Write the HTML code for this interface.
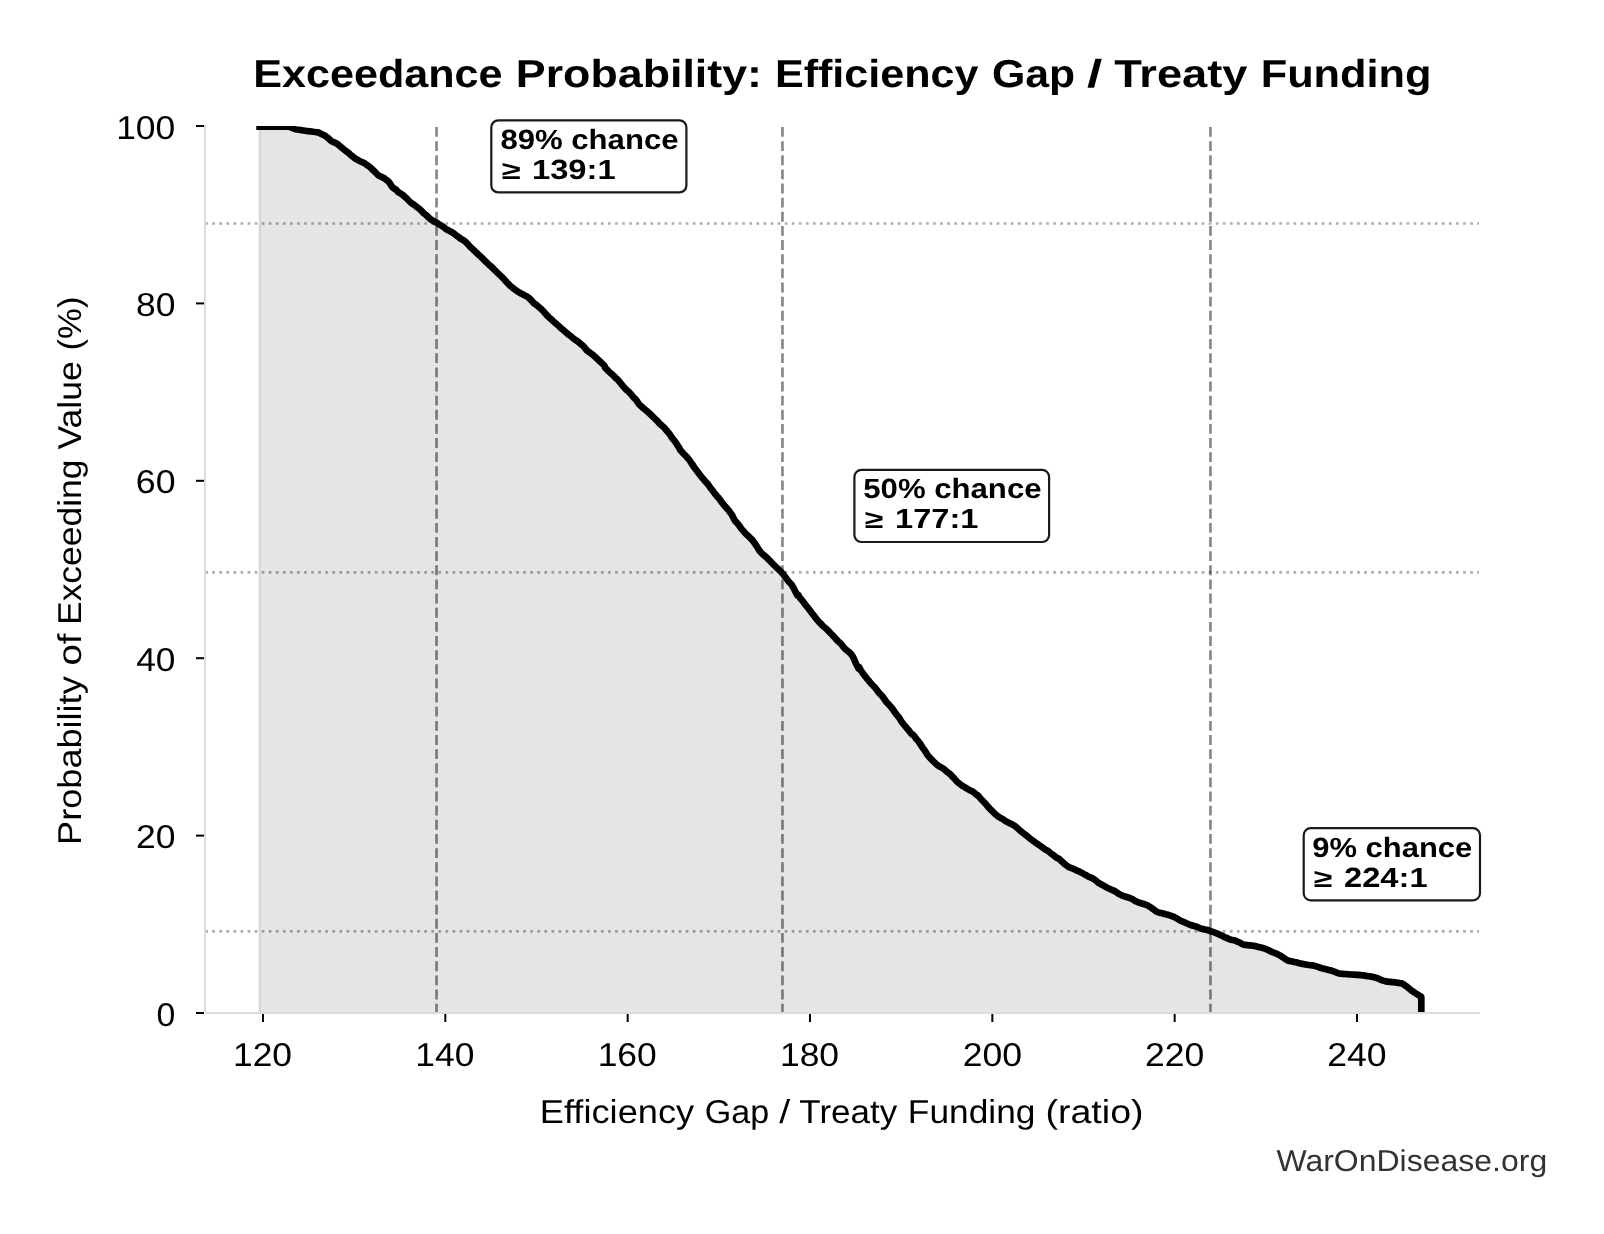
<!DOCTYPE html>
<html><head><meta charset="utf-8"><style>
html,body{margin:0;padding:0;background:#fff;overflow:hidden;}
svg{display:block;will-change:transform;}
text{font-family:"Liberation Sans", sans-serif;text-rendering:geometricPrecision;}
</style></head><body>
<svg width="1604" height="1234" viewBox="0 0 1604 1234">
<rect x="0" y="0" width="1604" height="1234" fill="#fff"/>
<defs><clipPath id="ax"><rect x="205" y="126" width="1274" height="887"/></clipPath></defs>
<g clip-path="url(#ax)">
<polygon points="259.6,126.6 288.9,126.6 295.4,129.2 301.9,130.2 308.3,131.2 310,131.3 311.6,131.5 313.2,131.8 314.9,132 316.5,132.2 318.1,132.4 319.7,133.1 321.3,133.9 323,134.7 324.6,135.5 326.2,136.6 327.8,137.8 329.4,139.3 331.1,140.9 332.7,141.7 334.3,142.4 335.9,143.1 337.6,144.1 339.2,145.5 340.8,146.9 342.4,148.2 344,149.6 345.7,150.8 347.3,152 348.9,153.2 350.5,154.8 352.1,156 353.8,157.3 355.4,158.6 357,159.5 358.6,160.4 360.2,161.2 361.9,162 363.5,162.8 365.1,163.6 366.7,164.8 368.3,165.9 370,167.1 371.6,168.7 373.2,170.2 374.8,171.7 376.5,173.5 378.1,175.1 379.7,176 381.3,176.8 382.9,177.6 384.6,178.3 385,178.9 386.6,180.1 388.2,181.2 389.9,183.3 391.5,186 393.1,187.9 394.7,188.9 396.3,189.9 398,192 399.6,192.9 401.2,193.8 402.8,195 404.4,196.5 406.1,197.9 407.7,199.5 409.3,201.1 410.9,202.6 412.6,203.9 414.2,204.9 415.8,206.1 417.4,207.4 419,208.6 420.7,210.1 422.3,211.7 423.9,213.4 425.5,214.6 427.1,216 428.8,217.6 430.4,219.2 432,220.2 433.6,221.2 435.2,222 436.9,222.9 438.5,223.9 440.1,224.8 441.7,225.8 443.3,226.9 445,228.3 446.6,229.4 448.2,230.3 449.8,231.1 451.5,232 453.1,232.9 454.7,234.2 456.3,235.4 457.9,236.6 459.6,237.6 460,238.4 461.6,239.3 463.2,240.1 464.9,241.2 466.5,242.8 468.1,244.5 469.7,246.2 471.3,247.9 473,249.3 474.6,250.9 476.2,252.5 477.8,254 479.4,255.4 481.1,257 482.7,258.5 484.3,260.2 485.9,261.8 487.6,263.4 489.2,264.9 490.8,266.3 492.4,267.8 494,269.3 495.7,271 497.3,272.6 498.9,274.1 500.5,275.6 502.1,277.1 503.8,278.8 505.4,280.7 507,282.5 508.6,284.1 510.2,285.8 511.9,287.1 513.5,288.5 515.1,289.7 516.7,290.8 518.3,291.9 520,292.9 521.6,293.8 523.2,294.6 524.8,295.4 526.5,296.2 528.1,297.4 529.7,298.7 531.3,300.3 532.9,302.1 534.6,303.9 535,303.8 536.6,305.1 538.2,306.5 539.9,307.9 541.5,309.3 543.1,311 544.7,312.8 546.3,314.6 548,316.4 549.6,317.9 551.2,319.3 552.8,320.8 554.4,322.2 556.1,323.6 557.7,325.1 559.3,326.5 560.9,327.9 562.6,329.4 564.2,330.8 565.8,332.2 567.4,333.6 569,334.9 570.7,336.2 572.3,337.5 573.9,338.8 575.5,340 577.1,341.1 578.8,342.3 580.4,343.7 582,345 583.6,346.3 585.2,348.3 586.9,350.5 588.5,351.7 590.1,352.8 591.7,354 593.3,355.2 595,356.7 596.6,358.2 598.2,359.8 599.8,361.3 601.5,362.9 603.1,364.4 604.7,366 605,367.6 606.6,369.2 608.2,370.8 609.9,372.5 611.5,373.8 613.1,375.2 614.7,376.9 616.3,378.6 618,380.1 619.6,381.8 621.2,383.9 622.8,385.8 624.4,387.7 626.1,389.6 627.7,390.9 629.3,392.3 630.9,394.2 632.6,396.2 634.2,398.1 635.8,399.5 637.4,401.7 639,404.2 640.7,405.7 642.3,407.2 643.9,408.7 645.5,409.9 647.1,411.3 648.8,412.8 650.4,414.3 652,415.8 653.6,417.4 655.2,418.9 656.9,420.4 658.5,422.4 660.1,424.1 661.7,425.4 663.3,426.8 665,428.6 666.6,430.5 668.2,432.4 669.8,434.3 671.5,437 673.1,439.3 674.7,441 676.3,443.4 677.9,445.9 679.6,448.4 680,449.7 681.6,451.5 683.2,453.3 684.9,455 686.5,456.6 688.1,458.5 689.7,460.5 691.3,463 693,465.5 694.6,467.9 696.2,469.9 697.8,472 699.4,474.2 701.1,476.4 702.7,478.3 704.3,480.2 705.9,482.1 707.6,483.8 709.2,486 710.8,488.4 712.4,490.2 714,492.5 715.7,494.6 717.3,496.5 718.9,498.3 720.5,500.5 722.1,502.7 723.8,504.8 725.4,506.7 727,508.6 728.6,510.3 730.2,512.5 731.9,514.7 733.5,517.9 735,520.8 736.6,522.4 738.2,524.3 739.9,526.6 741.5,528.9 743.1,530.7 744.7,532.5 746.3,534.2 748,535.7 749.6,537.3 751.2,538.9 752.8,540.6 754.4,542.9 756.1,545.3 757.7,547.8 759.3,550.4 760.9,552.4 762.6,554.1 764.2,555.4 765.8,556.8 767.4,558.3 769,559.9 770.7,561.6 772.3,563.3 773.9,564.9 775.5,566.5 777.1,568.1 778.8,569.6 780.4,571.2 782,572.8 783.6,574.7 785.2,576.9 786.9,579.2 788.5,581.4 790.1,583 791.7,584.7 793.3,587.5 794.6,590.1 797.4,595.4 798.4,595 800,598 801.7,599.9 803.3,601.8 804.9,604.1 806.5,606.1 808.2,608.1 809.8,610.3 811.4,612.5 813,614.5 814.6,616.4 816.3,618.7 817.9,620.8 819.5,622.5 821.1,624 822.7,625.8 824.4,627.2 826,628.5 827.6,630.1 829.2,631.8 830.8,633.5 832.5,635.2 834.1,636.9 835.7,638.7 837.3,640.5 838.9,642 840.6,643.4 842.2,645.3 843.8,647.5 845.4,649.1 847.1,650.5 848.7,651.8 850.3,653.2 851.9,655.1 853.5,657.8 855.8,663.2 858.5,668.5 859.1,667.1 860.7,670.1 862.3,672.5 863.9,674.7 865.6,676.8 867.2,678.9 868.8,680.7 870.4,682.8 872,684.5 873.7,686.2 875.3,687.9 876.9,690 878.5,692.2 880.1,694 881.8,695.7 883.4,697.7 885,700 886.6,702.2 888.2,703.9 889.9,705.7 891.5,707.7 893.1,709.7 894.7,712.1 896.4,714.4 898,716.2 899.6,718.3 901.2,721.1 902.8,723.4 904.5,725.4 906.1,727.2 907.7,729.3 908.2,729.6 909.9,731.9 911.5,733.8 913.1,734.8 914.7,736.7 916.3,739 918,740.8 919.6,742.9 921.2,745.4 922.8,747.9 924.4,750 926.1,752.6 927.7,755.3 929.3,757.1 930.9,758.8 932.6,760.6 934.2,762.1 935.8,763.6 937.4,765.1 939,766.2 940.7,767 942.3,768 943.9,769.1 945.5,770.5 947.1,771.8 948.8,773.1 950.4,774.4 952,776.1 953.6,777.8 955.2,779.6 956.9,781.5 958.5,782.8 960.1,784.1 961.7,785.3 963.3,786.3 965,787.3 966.6,788.4 968.2,789.3 969.8,790.2 971.5,791 973.1,791.8 974.7,793 976.3,794.6 976.9,794.7 978.6,796.3 980.2,798.1 981.8,799.9 983.4,801.5 985,803.1 986.7,805.1 988.3,807.1 989.9,808.8 991.5,810.4 993.2,812 994.8,813.7 996.4,815.1 998,816.3 999.6,817.4 1001.3,818.3 1002.9,819.2 1004.5,820.3 1006.1,821.3 1007.7,822.2 1009.4,823.1 1011,823.8 1012.6,824.7 1014.2,825.6 1015.8,826.7 1017.5,828.1 1019.1,829.6 1020.7,831.1 1022.3,832.4 1023.9,833.6 1025.6,834.9 1027.2,836.2 1028.8,837.5 1030.4,838.8 1032.1,840.1 1033.7,841.2 1035.3,842.4 1036.9,843.5 1038.5,844.7 1040.2,845.8 1041.8,846.9 1043.4,848.1 1045,849.3 1046.6,850.2 1048.3,851.2 1049.9,852.5 1050,852.6 1051.6,853.8 1053.2,855 1054.9,856.2 1056.5,857.7 1058.1,858.4 1059.7,859.4 1061.3,861 1063,862.5 1064.6,864 1066.2,865.2 1067.8,866.3 1069.4,867.3 1071.1,868 1072.7,868.4 1074.3,869.3 1075.9,870.1 1077.6,870.8 1079.2,871.4 1080.8,872.3 1082.4,873.2 1084,874.1 1085.7,875 1087.3,875.9 1088.9,876.8 1090.5,877.4 1092.1,878.1 1093.8,879.1 1095.4,880.2 1097,881.6 1098.6,882.8 1100.2,883.8 1101.9,884.7 1103.5,885.6 1105.1,886.5 1106.7,887.4 1108.3,888.3 1110,889 1111.6,889.8 1113.2,890.4 1114.8,891.1 1116.5,892.2 1118.1,893.3 1119.7,894.3 1121.3,895.2 1122.9,895.8 1124.6,896.4 1125,896.5 1126.6,897 1128.2,897.5 1129.9,898 1131.5,898.8 1133.1,899.6 1134.7,900.6 1136.3,901.5 1138,902.2 1139.6,902.7 1141.2,903.2 1142.8,903.7 1144.4,904.2 1146.1,904.8 1147.7,905.6 1149.3,906.4 1150.9,907.5 1152.6,908.7 1154.2,909.8 1155.8,911.1 1157.4,912 1159,912.6 1160.7,913 1162.3,913.3 1163.9,913.7 1165.5,914.2 1167.1,914.6 1168.8,915 1170.4,915.6 1172,916.2 1173.6,916.8 1175.2,917.6 1176.9,918.4 1178.5,919.5 1180.1,920.6 1181.7,921.2 1183.3,921.8 1185,922.5 1186.6,923.3 1188.2,924 1189.8,924.7 1191.5,925.3 1193.1,925.8 1194.7,926.1 1196.3,926.6 1197.9,927.3 1199.6,928 1200,928.4 1201.6,928.7 1203.2,929.1 1204.9,929.5 1206.5,929.8 1208.1,930.3 1209.7,930.8 1211.3,931.4 1213,931.9 1214.6,932.5 1216.2,933.2 1217.8,933.8 1219.4,934.6 1221.1,935.3 1222.7,936.1 1224.3,936.9 1225.9,937.7 1227.6,938.4 1229.2,939.1 1230.8,939.7 1232.4,940 1234,940.3 1235.7,940.8 1237.3,941.6 1238.9,942.3 1240.5,943.1 1242.1,943.9 1243.8,944.7 1245.4,944.9 1247,945.1 1248.6,945.3 1250.2,945.4 1251.9,945.6 1253.5,945.8 1255.1,946.1 1256.7,946.5 1258.3,946.9 1260,947.3 1261.6,947.7 1263.2,948.1 1264.8,948.7 1266.5,949.3 1268.1,950 1269.7,950.9 1271.3,951.6 1272.9,952.3 1274.6,952.9 1275,953.1 1276.6,953.8 1278.2,954.6 1279.9,955.4 1281.5,956.4 1283.1,957.5 1284.7,958.6 1286.3,959.6 1288,960.6 1289.6,960.9 1291.2,961.3 1292.8,961.6 1294.4,962 1296.1,962.3 1297.7,962.8 1299.3,963.2 1300.9,963.6 1302.6,963.9 1304.2,964.2 1305.8,964.5 1307.4,964.8 1309,965 1310.7,965.2 1312.3,965.4 1313.9,965.6 1315.5,966.1 1317.1,966.6 1318.8,967.2 1320.4,967.8 1322,968.3 1323.6,968.7 1325.2,969.1 1326.9,969.5 1328.5,970 1330.1,970.3 1331.7,970.8 1333.3,971.3 1335,971.9 1336.6,972.6 1338.2,973.2 1339.8,973.6 1341.5,973.8 1343.1,973.9 1344.7,974 1346.3,974.1 1347.9,974.3 1349.6,974.5 1350,974.4 1351.6,974.5 1353.2,974.6 1354.9,974.7 1356.5,974.8 1358.1,974.9 1359.7,975.1 1361.3,975.2 1363,975.4 1364.6,975.6 1366.2,975.9 1367.8,976.1 1369.4,976.3 1371.1,976.6 1372.7,976.9 1374.3,977.3 1375.9,977.7 1377.6,978.2 1379.2,979 1380.8,979.8 1382.4,980.4 1384,980.9 1385.7,981.4 1387.3,981.6 1388.9,981.8 1390.5,981.9 1392.1,982.1 1393.8,982.2 1395.4,982.4 1397,982.7 1398.6,982.9 1400.2,983.2 1401.9,983.4 1403.5,984.3 1405.1,985.4 1406.7,986.5 1408.3,987.9 1410,989.3 1411.6,990.6 1413.2,991.6 1414.8,992.7 1421.3,996.9 1421.3,1016 1421.3,1013 259.6,1013" fill="#000" fill-opacity="0.1"/>
<line x1="259.6" y1="126" x2="259.6" y2="1013" stroke="#000" stroke-opacity="0.1" stroke-width="2.4"/>
<g stroke="#000" stroke-opacity="0.33" stroke-width="2.667" stroke-dasharray="2.667 4.4">
<line x1="205.2" y1="223.5" x2="1479" y2="223.5"/>
<line x1="205.2" y1="572.4" x2="1479" y2="572.4"/>
<line x1="205.2" y1="931.4" x2="1479" y2="931.4"/>
</g>
<g stroke="#000" stroke-opacity="0.47" stroke-width="2.667" stroke-dasharray="9.87 4.27">
<line x1="436.55" y1="127" x2="436.55" y2="1013.2"/>
<line x1="782.45" y1="127" x2="782.45" y2="1013.2"/>
<line x1="1210.45" y1="127" x2="1210.45" y2="1013.2"/>
</g>
<polyline points="259.6,126.6 288.9,126.6 295.4,129.2 301.9,130.2 308.3,131.2 310,131.3 311.6,131.5 313.2,131.8 314.9,132 316.5,132.2 318.1,132.4 319.7,133.1 321.3,133.9 323,134.7 324.6,135.5 326.2,136.6 327.8,137.8 329.4,139.3 331.1,140.9 332.7,141.7 334.3,142.4 335.9,143.1 337.6,144.1 339.2,145.5 340.8,146.9 342.4,148.2 344,149.6 345.7,150.8 347.3,152 348.9,153.2 350.5,154.8 352.1,156 353.8,157.3 355.4,158.6 357,159.5 358.6,160.4 360.2,161.2 361.9,162 363.5,162.8 365.1,163.6 366.7,164.8 368.3,165.9 370,167.1 371.6,168.7 373.2,170.2 374.8,171.7 376.5,173.5 378.1,175.1 379.7,176 381.3,176.8 382.9,177.6 384.6,178.3 385,178.9 386.6,180.1 388.2,181.2 389.9,183.3 391.5,186 393.1,187.9 394.7,188.9 396.3,189.9 398,192 399.6,192.9 401.2,193.8 402.8,195 404.4,196.5 406.1,197.9 407.7,199.5 409.3,201.1 410.9,202.6 412.6,203.9 414.2,204.9 415.8,206.1 417.4,207.4 419,208.6 420.7,210.1 422.3,211.7 423.9,213.4 425.5,214.6 427.1,216 428.8,217.6 430.4,219.2 432,220.2 433.6,221.2 435.2,222 436.9,222.9 438.5,223.9 440.1,224.8 441.7,225.8 443.3,226.9 445,228.3 446.6,229.4 448.2,230.3 449.8,231.1 451.5,232 453.1,232.9 454.7,234.2 456.3,235.4 457.9,236.6 459.6,237.6 460,238.4 461.6,239.3 463.2,240.1 464.9,241.2 466.5,242.8 468.1,244.5 469.7,246.2 471.3,247.9 473,249.3 474.6,250.9 476.2,252.5 477.8,254 479.4,255.4 481.1,257 482.7,258.5 484.3,260.2 485.9,261.8 487.6,263.4 489.2,264.9 490.8,266.3 492.4,267.8 494,269.3 495.7,271 497.3,272.6 498.9,274.1 500.5,275.6 502.1,277.1 503.8,278.8 505.4,280.7 507,282.5 508.6,284.1 510.2,285.8 511.9,287.1 513.5,288.5 515.1,289.7 516.7,290.8 518.3,291.9 520,292.9 521.6,293.8 523.2,294.6 524.8,295.4 526.5,296.2 528.1,297.4 529.7,298.7 531.3,300.3 532.9,302.1 534.6,303.9 535,303.8 536.6,305.1 538.2,306.5 539.9,307.9 541.5,309.3 543.1,311 544.7,312.8 546.3,314.6 548,316.4 549.6,317.9 551.2,319.3 552.8,320.8 554.4,322.2 556.1,323.6 557.7,325.1 559.3,326.5 560.9,327.9 562.6,329.4 564.2,330.8 565.8,332.2 567.4,333.6 569,334.9 570.7,336.2 572.3,337.5 573.9,338.8 575.5,340 577.1,341.1 578.8,342.3 580.4,343.7 582,345 583.6,346.3 585.2,348.3 586.9,350.5 588.5,351.7 590.1,352.8 591.7,354 593.3,355.2 595,356.7 596.6,358.2 598.2,359.8 599.8,361.3 601.5,362.9 603.1,364.4 604.7,366 605,367.6 606.6,369.2 608.2,370.8 609.9,372.5 611.5,373.8 613.1,375.2 614.7,376.9 616.3,378.6 618,380.1 619.6,381.8 621.2,383.9 622.8,385.8 624.4,387.7 626.1,389.6 627.7,390.9 629.3,392.3 630.9,394.2 632.6,396.2 634.2,398.1 635.8,399.5 637.4,401.7 639,404.2 640.7,405.7 642.3,407.2 643.9,408.7 645.5,409.9 647.1,411.3 648.8,412.8 650.4,414.3 652,415.8 653.6,417.4 655.2,418.9 656.9,420.4 658.5,422.4 660.1,424.1 661.7,425.4 663.3,426.8 665,428.6 666.6,430.5 668.2,432.4 669.8,434.3 671.5,437 673.1,439.3 674.7,441 676.3,443.4 677.9,445.9 679.6,448.4 680,449.7 681.6,451.5 683.2,453.3 684.9,455 686.5,456.6 688.1,458.5 689.7,460.5 691.3,463 693,465.5 694.6,467.9 696.2,469.9 697.8,472 699.4,474.2 701.1,476.4 702.7,478.3 704.3,480.2 705.9,482.1 707.6,483.8 709.2,486 710.8,488.4 712.4,490.2 714,492.5 715.7,494.6 717.3,496.5 718.9,498.3 720.5,500.5 722.1,502.7 723.8,504.8 725.4,506.7 727,508.6 728.6,510.3 730.2,512.5 731.9,514.7 733.5,517.9 735,520.8 736.6,522.4 738.2,524.3 739.9,526.6 741.5,528.9 743.1,530.7 744.7,532.5 746.3,534.2 748,535.7 749.6,537.3 751.2,538.9 752.8,540.6 754.4,542.9 756.1,545.3 757.7,547.8 759.3,550.4 760.9,552.4 762.6,554.1 764.2,555.4 765.8,556.8 767.4,558.3 769,559.9 770.7,561.6 772.3,563.3 773.9,564.9 775.5,566.5 777.1,568.1 778.8,569.6 780.4,571.2 782,572.8 783.6,574.7 785.2,576.9 786.9,579.2 788.5,581.4 790.1,583 791.7,584.7 793.3,587.5 794.6,590.1 797.4,595.4 798.4,595 800,598 801.7,599.9 803.3,601.8 804.9,604.1 806.5,606.1 808.2,608.1 809.8,610.3 811.4,612.5 813,614.5 814.6,616.4 816.3,618.7 817.9,620.8 819.5,622.5 821.1,624 822.7,625.8 824.4,627.2 826,628.5 827.6,630.1 829.2,631.8 830.8,633.5 832.5,635.2 834.1,636.9 835.7,638.7 837.3,640.5 838.9,642 840.6,643.4 842.2,645.3 843.8,647.5 845.4,649.1 847.1,650.5 848.7,651.8 850.3,653.2 851.9,655.1 853.5,657.8 855.8,663.2 858.5,668.5 859.1,667.1 860.7,670.1 862.3,672.5 863.9,674.7 865.6,676.8 867.2,678.9 868.8,680.7 870.4,682.8 872,684.5 873.7,686.2 875.3,687.9 876.9,690 878.5,692.2 880.1,694 881.8,695.7 883.4,697.7 885,700 886.6,702.2 888.2,703.9 889.9,705.7 891.5,707.7 893.1,709.7 894.7,712.1 896.4,714.4 898,716.2 899.6,718.3 901.2,721.1 902.8,723.4 904.5,725.4 906.1,727.2 907.7,729.3 908.2,729.6 909.9,731.9 911.5,733.8 913.1,734.8 914.7,736.7 916.3,739 918,740.8 919.6,742.9 921.2,745.4 922.8,747.9 924.4,750 926.1,752.6 927.7,755.3 929.3,757.1 930.9,758.8 932.6,760.6 934.2,762.1 935.8,763.6 937.4,765.1 939,766.2 940.7,767 942.3,768 943.9,769.1 945.5,770.5 947.1,771.8 948.8,773.1 950.4,774.4 952,776.1 953.6,777.8 955.2,779.6 956.9,781.5 958.5,782.8 960.1,784.1 961.7,785.3 963.3,786.3 965,787.3 966.6,788.4 968.2,789.3 969.8,790.2 971.5,791 973.1,791.8 974.7,793 976.3,794.6 976.9,794.7 978.6,796.3 980.2,798.1 981.8,799.9 983.4,801.5 985,803.1 986.7,805.1 988.3,807.1 989.9,808.8 991.5,810.4 993.2,812 994.8,813.7 996.4,815.1 998,816.3 999.6,817.4 1001.3,818.3 1002.9,819.2 1004.5,820.3 1006.1,821.3 1007.7,822.2 1009.4,823.1 1011,823.8 1012.6,824.7 1014.2,825.6 1015.8,826.7 1017.5,828.1 1019.1,829.6 1020.7,831.1 1022.3,832.4 1023.9,833.6 1025.6,834.9 1027.2,836.2 1028.8,837.5 1030.4,838.8 1032.1,840.1 1033.7,841.2 1035.3,842.4 1036.9,843.5 1038.5,844.7 1040.2,845.8 1041.8,846.9 1043.4,848.1 1045,849.3 1046.6,850.2 1048.3,851.2 1049.9,852.5 1050,852.6 1051.6,853.8 1053.2,855 1054.9,856.2 1056.5,857.7 1058.1,858.4 1059.7,859.4 1061.3,861 1063,862.5 1064.6,864 1066.2,865.2 1067.8,866.3 1069.4,867.3 1071.1,868 1072.7,868.4 1074.3,869.3 1075.9,870.1 1077.6,870.8 1079.2,871.4 1080.8,872.3 1082.4,873.2 1084,874.1 1085.7,875 1087.3,875.9 1088.9,876.8 1090.5,877.4 1092.1,878.1 1093.8,879.1 1095.4,880.2 1097,881.6 1098.6,882.8 1100.2,883.8 1101.9,884.7 1103.5,885.6 1105.1,886.5 1106.7,887.4 1108.3,888.3 1110,889 1111.6,889.8 1113.2,890.4 1114.8,891.1 1116.5,892.2 1118.1,893.3 1119.7,894.3 1121.3,895.2 1122.9,895.8 1124.6,896.4 1125,896.5 1126.6,897 1128.2,897.5 1129.9,898 1131.5,898.8 1133.1,899.6 1134.7,900.6 1136.3,901.5 1138,902.2 1139.6,902.7 1141.2,903.2 1142.8,903.7 1144.4,904.2 1146.1,904.8 1147.7,905.6 1149.3,906.4 1150.9,907.5 1152.6,908.7 1154.2,909.8 1155.8,911.1 1157.4,912 1159,912.6 1160.7,913 1162.3,913.3 1163.9,913.7 1165.5,914.2 1167.1,914.6 1168.8,915 1170.4,915.6 1172,916.2 1173.6,916.8 1175.2,917.6 1176.9,918.4 1178.5,919.5 1180.1,920.6 1181.7,921.2 1183.3,921.8 1185,922.5 1186.6,923.3 1188.2,924 1189.8,924.7 1191.5,925.3 1193.1,925.8 1194.7,926.1 1196.3,926.6 1197.9,927.3 1199.6,928 1200,928.4 1201.6,928.7 1203.2,929.1 1204.9,929.5 1206.5,929.8 1208.1,930.3 1209.7,930.8 1211.3,931.4 1213,931.9 1214.6,932.5 1216.2,933.2 1217.8,933.8 1219.4,934.6 1221.1,935.3 1222.7,936.1 1224.3,936.9 1225.9,937.7 1227.6,938.4 1229.2,939.1 1230.8,939.7 1232.4,940 1234,940.3 1235.7,940.8 1237.3,941.6 1238.9,942.3 1240.5,943.1 1242.1,943.9 1243.8,944.7 1245.4,944.9 1247,945.1 1248.6,945.3 1250.2,945.4 1251.9,945.6 1253.5,945.8 1255.1,946.1 1256.7,946.5 1258.3,946.9 1260,947.3 1261.6,947.7 1263.2,948.1 1264.8,948.7 1266.5,949.3 1268.1,950 1269.7,950.9 1271.3,951.6 1272.9,952.3 1274.6,952.9 1275,953.1 1276.6,953.8 1278.2,954.6 1279.9,955.4 1281.5,956.4 1283.1,957.5 1284.7,958.6 1286.3,959.6 1288,960.6 1289.6,960.9 1291.2,961.3 1292.8,961.6 1294.4,962 1296.1,962.3 1297.7,962.8 1299.3,963.2 1300.9,963.6 1302.6,963.9 1304.2,964.2 1305.8,964.5 1307.4,964.8 1309,965 1310.7,965.2 1312.3,965.4 1313.9,965.6 1315.5,966.1 1317.1,966.6 1318.8,967.2 1320.4,967.8 1322,968.3 1323.6,968.7 1325.2,969.1 1326.9,969.5 1328.5,970 1330.1,970.3 1331.7,970.8 1333.3,971.3 1335,971.9 1336.6,972.6 1338.2,973.2 1339.8,973.6 1341.5,973.8 1343.1,973.9 1344.7,974 1346.3,974.1 1347.9,974.3 1349.6,974.5 1350,974.4 1351.6,974.5 1353.2,974.6 1354.9,974.7 1356.5,974.8 1358.1,974.9 1359.7,975.1 1361.3,975.2 1363,975.4 1364.6,975.6 1366.2,975.9 1367.8,976.1 1369.4,976.3 1371.1,976.6 1372.7,976.9 1374.3,977.3 1375.9,977.7 1377.6,978.2 1379.2,979 1380.8,979.8 1382.4,980.4 1384,980.9 1385.7,981.4 1387.3,981.6 1388.9,981.8 1390.5,981.9 1392.1,982.1 1393.8,982.2 1395.4,982.4 1397,982.7 1398.6,982.9 1400.2,983.2 1401.9,983.4 1403.5,984.3 1405.1,985.4 1406.7,986.5 1408.3,987.9 1410,989.3 1411.6,990.6 1413.2,991.6 1414.8,992.7 1421.3,996.9 1421.3,1016" fill="none" stroke="#000" stroke-width="6.67" stroke-linejoin="round" stroke-linecap="square"/>
</g>
<g stroke="#dddddd" stroke-width="2">
<line x1="205" y1="125" x2="205" y2="1012"/>
<line x1="205" y1="1013" x2="1480" y2="1013"/>
</g>
<g stroke="#000" stroke-width="2">
<line x1="196" y1="126" x2="204" y2="126"/>
<line x1="196" y1="303.4" x2="204" y2="303.4"/>
<line x1="196" y1="480.8" x2="204" y2="480.8"/>
<line x1="196" y1="658.2" x2="204" y2="658.2"/>
<line x1="196" y1="835.6" x2="204" y2="835.6"/>
<line x1="196" y1="1013" x2="204" y2="1013"/>
<line x1="263" y1="1014" x2="263" y2="1022"/>
<line x1="445.33" y1="1014" x2="445.33" y2="1022"/>
<line x1="627.67" y1="1014" x2="627.67" y2="1022"/>
<line x1="810" y1="1014" x2="810" y2="1022"/>
<line x1="992.33" y1="1014" x2="992.33" y2="1022"/>
<line x1="1174.67" y1="1014" x2="1174.67" y2="1022"/>
<line x1="1357" y1="1014" x2="1357" y2="1022"/>
</g>
<g fill="#fff" stroke="#1a1a1a" stroke-width="2.2">
<rect x="491.3" y="120.3" width="195.1" height="72.1" rx="7"/>
<rect x="854.4" y="469.9" width="194.7" height="72.1" rx="7"/>
<rect x="1303.7" y="828.2" width="176.3" height="72.1" rx="7"/>
</g>
<text x="1276.45" y="1170.85" font-size="30.1" fill="#333" textLength="270.74" lengthAdjust="spacingAndGlyphs">WarOnDisease.org</text>
<text x="500.45" y="148.6" font-size="27.8" font-weight="bold" textLength="178.08" lengthAdjust="spacingAndGlyphs">89% chance</text>
<text transform="translate(501.64,178.9) scale(1,0.915)" x="0" y="0" font-size="27.8" font-weight="bold" textLength="18.89" lengthAdjust="spacingAndGlyphs">≥</text>
<text x="531.93" y="178.9" font-size="27.8" font-weight="bold" textLength="83.76" lengthAdjust="spacingAndGlyphs">139:1</text>
<text x="863.25" y="497.5" font-size="27.8" font-weight="bold" textLength="178.27" lengthAdjust="spacingAndGlyphs">50% chance</text>
<text transform="translate(864.76,527.8) scale(1,0.915)" x="0" y="0" font-size="27.8" font-weight="bold" textLength="18.56" lengthAdjust="spacingAndGlyphs">≥</text>
<text x="895.14" y="527.8" font-size="27.8" font-weight="bold" textLength="83.35" lengthAdjust="spacingAndGlyphs">177:1</text>
<text x="1312.28" y="856.6" font-size="27.8" font-weight="bold" textLength="159.93" lengthAdjust="spacingAndGlyphs">9% chance</text>
<text transform="translate(1313.76,886.9) scale(1,0.915)" x="0" y="0" font-size="27.8" font-weight="bold" textLength="18.56" lengthAdjust="spacingAndGlyphs">≥</text>
<text x="1344.02" y="886.9" font-size="27.8" font-weight="bold" textLength="83.56" lengthAdjust="spacingAndGlyphs">224:1</text>
<text x="253.2" y="87" font-size="38.95" font-weight="bold" textLength="249.37" lengthAdjust="spacingAndGlyphs">Exceedance</text>
<text x="515.89" y="87" font-size="38.95" font-weight="bold" textLength="246.06" lengthAdjust="spacingAndGlyphs">Probability:</text>
<text x="774.9" y="87" font-size="38.95" font-weight="bold" textLength="203.67" lengthAdjust="spacingAndGlyphs">Efficiency</text>
<text x="991.92" y="87" font-size="38.95" font-weight="bold" textLength="83.27" lengthAdjust="spacingAndGlyphs">Gap</text>
<text x="1087" y="87" font-size="38.95" font-weight="bold" textLength="15.32" lengthAdjust="spacingAndGlyphs">/</text>
<text x="1114.18" y="87" font-size="38.95" font-weight="bold" textLength="133.34" lengthAdjust="spacingAndGlyphs">Treaty</text>
<text x="1260.68" y="87" font-size="38.95" font-weight="bold" textLength="170.9" lengthAdjust="spacingAndGlyphs">Funding</text>
<text x="539.81" y="1122.8" font-size="33" textLength="154.36" lengthAdjust="spacingAndGlyphs">Efficiency</text>
<text x="704.87" y="1122.8" font-size="33" textLength="64.41" lengthAdjust="spacingAndGlyphs">Gap</text>
<text x="779.38" y="1122.8" font-size="33" textLength="10.93" lengthAdjust="spacingAndGlyphs">/</text>
<text x="799.32" y="1122.8" font-size="33" textLength="97.87" lengthAdjust="spacingAndGlyphs">Treaty</text>
<text x="907.89" y="1122.8" font-size="33" textLength="127.51" lengthAdjust="spacingAndGlyphs">Funding</text>
<text x="1045.45" y="1122.8" font-size="33" textLength="98.11" lengthAdjust="spacingAndGlyphs">(ratio)</text>
<text transform="translate(80.95,841.8) rotate(-90)" x="-3.08" y="0" font-size="33" textLength="168.56" lengthAdjust="spacingAndGlyphs">Probability</text>
<text transform="translate(80.95,663.9) rotate(-90)" x="-1.63" y="0" font-size="33" textLength="31.98" lengthAdjust="spacingAndGlyphs">of</text>
<text transform="translate(80.95,622) rotate(-90)" x="-3.02" y="0" font-size="33" textLength="165.57" lengthAdjust="spacingAndGlyphs">Exceeding</text>
<text transform="translate(80.95,448.9) rotate(-90)" x="-0.54" y="0" font-size="33" textLength="88.16" lengthAdjust="spacingAndGlyphs">Value</text>
<text transform="translate(80.95,348.3) rotate(-90)" x="-2.17" y="0" font-size="33" textLength="53.9" lengthAdjust="spacingAndGlyphs">(%)</text>
<text x="116.2" y="138.6" font-size="33" textLength="59.02" lengthAdjust="spacingAndGlyphs">100</text>
<text x="136.13" y="316" font-size="33" textLength="39.37" lengthAdjust="spacingAndGlyphs">80</text>
<text x="135.86" y="493.4" font-size="33" textLength="39.65" lengthAdjust="spacingAndGlyphs">60</text>
<text x="136.23" y="670.8" font-size="33" textLength="39.27" lengthAdjust="spacingAndGlyphs">40</text>
<text x="136.02" y="848.2" font-size="33" textLength="39.49" lengthAdjust="spacingAndGlyphs">20</text>
<text x="156.48" y="1025.6" font-size="33" textLength="18.83" lengthAdjust="spacingAndGlyphs">0</text>
<text x="233.02" y="1065.7" font-size="33" textLength="59.02" lengthAdjust="spacingAndGlyphs">120</text>
<text x="415.36" y="1065.7" font-size="33" textLength="59.02" lengthAdjust="spacingAndGlyphs">140</text>
<text x="597.69" y="1065.7" font-size="33" textLength="59.02" lengthAdjust="spacingAndGlyphs">160</text>
<text x="780.02" y="1065.7" font-size="33" textLength="59.02" lengthAdjust="spacingAndGlyphs">180</text>
<text x="962.65" y="1065.7" font-size="33" textLength="59.31" lengthAdjust="spacingAndGlyphs">200</text>
<text x="1144.98" y="1065.7" font-size="33" textLength="59.31" lengthAdjust="spacingAndGlyphs">220</text>
<text x="1327.31" y="1065.7" font-size="33" textLength="59.31" lengthAdjust="spacingAndGlyphs">240</text>
</svg>
</body></html>
